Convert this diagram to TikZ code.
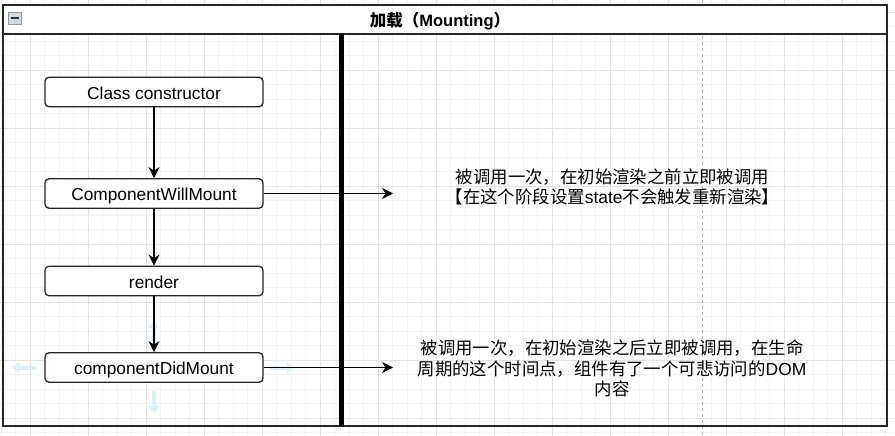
\documentclass[tikz,border=0pt]{standalone}
\usepackage{fontspec}
\setmainfont{Liberation Sans}
\newfontfamily\cjk{Noto Sans CJK SC}
\usetikzlibrary{arrows.meta}
\definecolor{gridminor}{HTML}{F3F3F3}
\definecolor{gridmajor}{HTML}{E4E4E4}
\definecolor{hoverblue}{HTML}{DCF1FC}
\definecolor{dashgray}{HTML}{B0B0B0}
\definecolor{iconfill}{HTML}{D3D9E0}
\definecolor{frame}{HTML}{262626}
\begin{document}
\begin{tikzpicture}[x=1pt,y=-1pt,
  stage/.style={draw=frame, line width=1.3pt, rounded corners=4pt, fill=white,
    minimum width=218pt, minimum height=29.5pt, inner sep=0pt,
    text height=15pt, text depth=0.5pt, font=\fontsize{17.3}{20}\selectfont},
  flow/.style={draw=black, line width=1.4pt, -{Stealth[length=11pt,width=11pt,inset=3.5pt]}},
  desc/.style={align=center, inner sep=0pt, font=\fontsize{17.4}{20.5}\selectfont},
  hover/.style={draw=hoverblue, line width=4pt, -{Triangle[length=7pt,width=11pt]}}
]
\useasboundingbox (0,0) rectangle (895,436);
\fill[white] (0,0) rectangle (895,436);
% background grid
\foreach \x in {1.3,15.8,...,895} \draw[gridminor, line width=0.8pt] (\x,0) -- (\x,436);
\foreach \y in {-2.5,12,...,436} \draw[gridminor, line width=0.8pt] (0,\y) -- (895,\y);
\foreach \x in {30.3,88.3,...,895} \draw[gridmajor, line width=0.8pt] (\x,0) -- (\x,436);
\foreach \y in {12,70,...,436} \draw[gridmajor, line width=0.8pt] (0,\y) -- (895,\y);
% dashed guide
\draw[dashgray, line width=1pt, dash pattern=on 3pt off 3pt] (702,0) -- (702,436);
% container
\fill[white] (3,5) rectangle (887,34);
\draw[frame, line width=2pt] (3,5) rectangle (887,426);
\draw[frame, line width=2pt] (3,34) -- (887,34);
\draw[black, line width=4.5pt] (341.7,34) -- (341.7,426);
% collapse icon
\draw[fill=iconfill, draw=gray!80, line width=0.8pt] (8,12) rectangle (21,24);
\draw[black!80, line width=1.5pt] (10.5,18) -- (18.5,18);
\node[inner sep=0pt, font=\fontsize{16.5}{20}\selectfont] (title) at (440,21)
  {{\cjk\bfseries 加载（}{\bfseries Mounting}{\cjk\bfseries ）}};
% hover handles
\draw[hover] (154,342) -- (154,321);
\draw[hover] (154,391) -- (154,413);
\draw[hover] (36,367.5) -- (12,367.5);
\draw[hover] (270,367.5) -- (294,367.5);
% stages
\node[stage] (cc) at (154,92) {Class constructor};
\node[stage] (cwm) at (154,193.5) {ComponentWillMount};
\node[stage] (rd) at (154,281) {render};
\node[stage] (cdm) at (154,367.5) {componentDidMount};
\coordinate (e1) at (393,193.5);
\coordinate (e2) at (393,367.5);
\draw[flow] (cc) -- (cwm);
\draw[flow] (cwm) -- (rd);
\draw[flow] (rd) -- (cdm);
\draw[flow] (cwm) -- (e1);
\draw[flow] (cdm) -- (e2);
% descriptions
\node[desc] (d1) at (612.5,187)
  {{\cjk 被调用一次，在初始渲染之前立即被调用}\\{\cjk 【在这个阶段设置}state{\cjk 不会触发重新渲染】}};
\node[desc] (d2) at (612,368.5)
  {{\cjk 被调用一次，在初始渲染之后立即被调用，在生命}\\{\cjk 周期的这个时间点，组件有了一个可悲访问的}DOM\\{\cjk 内容}};
\end{tikzpicture}
\end{document}
